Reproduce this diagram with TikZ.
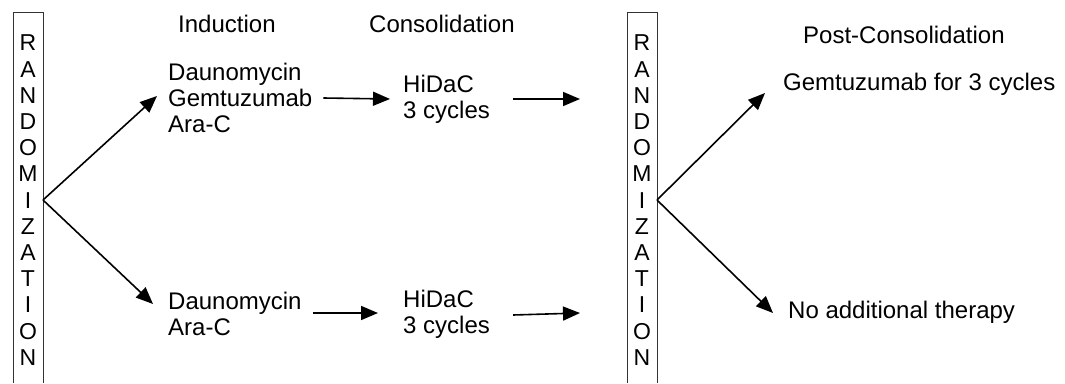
\documentclass[tikz,border=0pt]{standalone}
\usepackage{fontspec}
\setmainfont{Liberation Sans}
\usetikzlibrary{arrows.meta}

\begin{document}
\begin{tikzpicture}[x=1pt,y=-1pt,
  txt/.style={inner sep=0pt,anchor=west,align=left,font=\fontsize{24}{26}\selectfont},
  ltr/.style={inner sep=0pt,font=\fontsize{23}{26}\selectfont},
  arr/.style={line width=1.6pt,-{Triangle[length=17pt,width=14pt]}},
  bar/.style={line width=0.7pt,black!80}]
\useasboundingbox (0,0) rectangle (1065,383);
% randomization bars
\draw[bar] (13,383) -- (13,12) -- (43,12) -- (43,383);
\draw[bar] (627,383) -- (627,12) -- (657,12) -- (657,383);
\foreach \l [count=\i] in {R,A,N,D,O,M,I,Z,A,T,I,O,N} {
   \node[ltr] (ra\i) at (28,43+26.2*\i-26.2) {\l};
   \node[ltr] (rb\i) at (642,43+26.2*\i-26.2) {\l};
}
\coordinate (r1) at (43,200);
\coordinate (r2) at (657,200);
% headers
\node[txt] (hind) at (178,24) {Induction};
\node[txt] (hcons) at (369,24) {Consolidation};
\node[txt] (hpost) at (803,35) {Post-Consolidation};
% arms
\node[txt] (ind1) at (168,98) {Daunomycin\\Gemtuzumab\\Ara-C};
\node[txt] (ind2) at (168,314) {Daunomycin\\Ara-C};
\node[txt] (cons1) at (403,99) {HiDaC\\3 cycles};
\node[txt] (cons2) at (403,314) {HiDaC\\3 cycles};
\node[txt] (post1) at (783,84) {Gemtuzumab for 3 cycles};
\node[txt] (post2) at (788,312) {No additional therapy};
\coordinate (in1) at (580,99);
\coordinate (in2) at (580,313);
% arrows
\draw[arr] (r1) -- ([shift={(-11,-2)}]ind1.west);
\draw[arr] (r1) -- ([shift={(-15,-10)}]ind2.west);
\draw[arr] ([xshift=11]ind1.east) -- ([xshift=-13]cons1.west);
\draw[arr] ([shift={(11,-1)}]ind2.east) -- ([shift={(-25,-1)}]cons2.west);
\draw[arr] ([xshift=23]cons1.east) -- (in1);
\draw[arr] ([xshift=23,yshift=-1]cons2.east) -- (in2);
\draw[arr] (r2) -- ([shift={(-18,9)}]post1.west);
\draw[arr] (r2) -- ([shift={(-15,1)}]post2.west);
\end{tikzpicture}
\end{document}
